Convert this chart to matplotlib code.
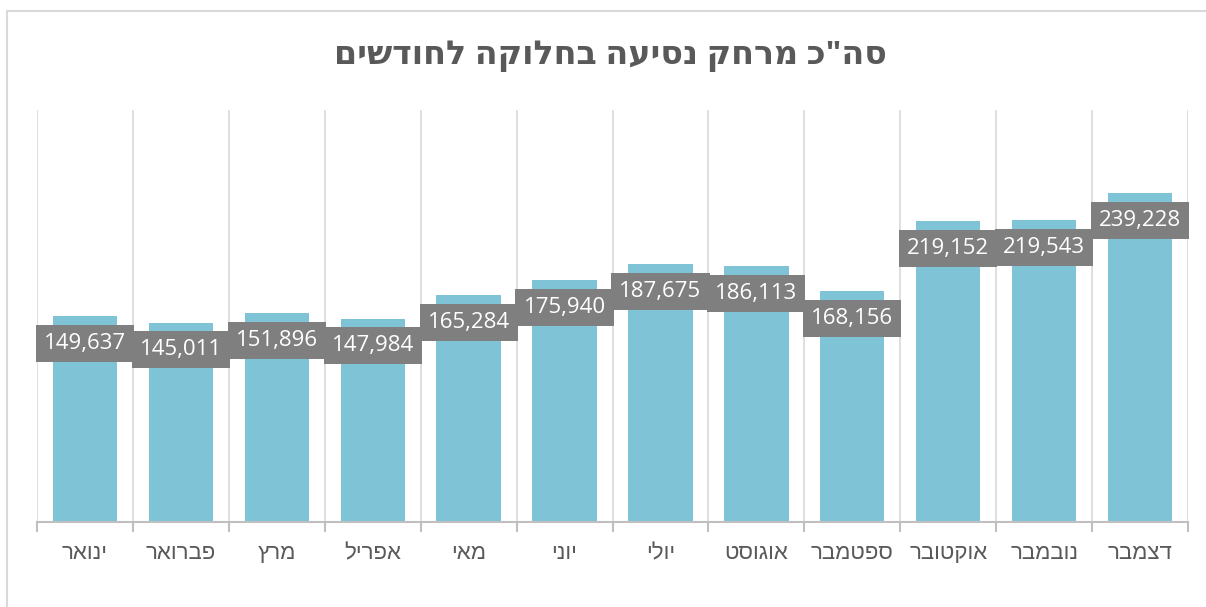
import matplotlib

matplotlib.use("Agg")
import matplotlib.pyplot as plt
from matplotlib.patches import Rectangle

# Data
months = ["ינואר", "פברואר", "מרץ", "אפריל", "מאי", "יוני",
          "יולי", "אוגוסט", "ספטמבר", "אוקטובר", "נובמבר", "דצמבר"]
distance = [149637, 145011, 151896, 147984, 165284, 175940,
            187675, 186113, 168156, 219152, 219543, 239228]
title = 'סה"כ מרחק נסיעה בחלוקה לחודשים'

BAR_COLOR = "#7fc4d6"
LABEL_BG = "#7f7f7f"
TEXT_GRAY = "#595959"

plt.rcParams["font.family"] = ["Liberation Sans", "DejaVu Sans"]


def rtl(s):
    # matplotlib has no bidi support, reverse Hebrew for visual order
    return s[::-1]


fig = plt.figure(figsize=(12.06, 6.07), dpi=100)
# chart border (runs off right/bottom like the original screenshot)
fig.patches.append(Rectangle((7 / 1206, -0.05), 1.2, 1 - 11 / 607 + 0.05,
                             transform=fig.transFigure, fill=False,
                             edgecolor="#d9d9d9", linewidth=1.5))

ax = fig.add_axes([37 / 1206, 85 / 607, 1151 / 1206, 412 / 607])
x = list(range(len(months)))
ax.bar(x, distance, width=0.67, color=BAR_COLOR, zorder=2)

ax.set_xlim(-0.5, len(months) - 0.5)
ax.set_ylim(0, 300000)

# vertical gridlines at category boundaries
for b in range(len(months) + 1):
    ax.axvline(b - 0.5, color="#d9d9d9", linewidth=1.2, zorder=1)

for spine in ["top", "right", "left"]:
    ax.spines[spine].set_visible(False)
ax.spines["bottom"].set_color("#bfbfbf")
ax.spines["bottom"].set_linewidth(1.5)
ax.set_yticks([])

ax.set_xticks([b - 0.5 for b in range(len(months) + 1)], minor=False)
ax.set_xticklabels([])
ax.tick_params(axis="x", which="major", length=7, color="#bfbfbf", width=1.5)
ax.set_xticks(x, [rtl(m) for m in months], minor=True)
ax.tick_params(axis="x", which="minor", length=0, pad=15, labelsize=16,
               labelcolor=TEXT_GRAY)

for xi, v in zip(x, distance):
    ax.annotate(f"{v:,}", (xi, v), xytext=(0, -27), textcoords="offset pixels",
                ha="center", va="center", fontsize=16, color="white", zorder=3,
                family=["Open Sans", "DejaVu Sans"],
                bbox=dict(boxstyle="square,pad=0.36", facecolor=LABEL_BG,
                          edgecolor="none"))

fig.text(0.506, 1 - 55 / 607, rtl(title), ha="center", va="center",
         fontsize=24, fontweight="bold", color=TEXT_GRAY,
         family=["Open Sans", "DejaVu Sans"])

fig.savefig("out.png", dpi=100)
